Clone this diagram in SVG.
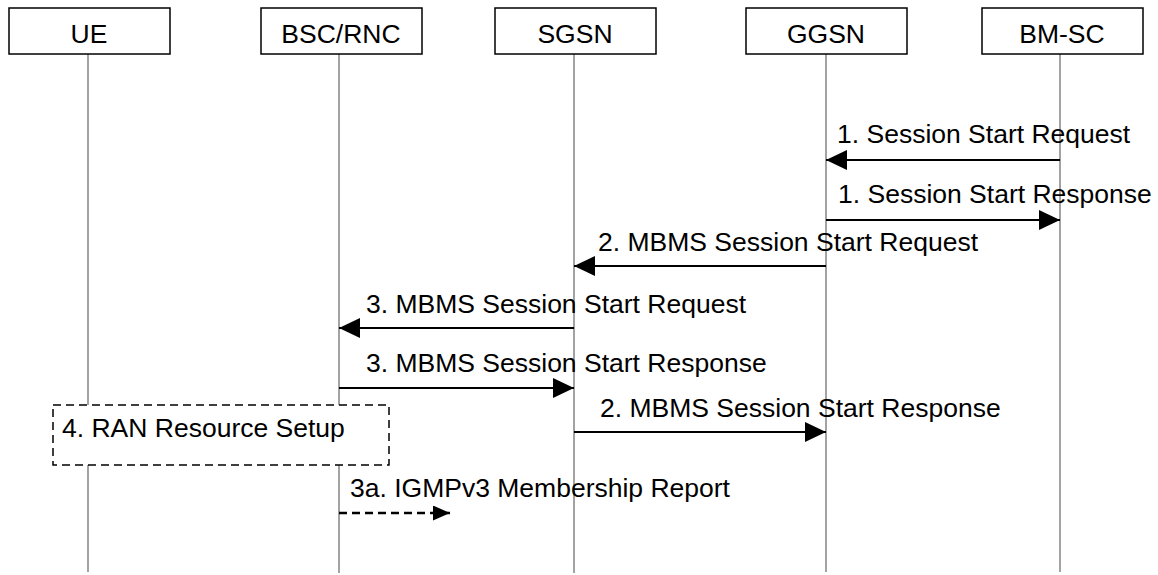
<svg xmlns="http://www.w3.org/2000/svg" width="1158" height="575" viewBox="0 0 1158 575">
<style>
text{font-family:"Liberation Sans",Arial,sans-serif;font-size:26.5px;fill:#000}
.box{fill:#fff;stroke:#000;stroke-width:1.5}
.life{stroke:#666;stroke-width:1.2}
.msg{stroke:#000;stroke-width:1.8;fill:none}
.dmsg{stroke:#000;stroke-width:2.6;fill:none;stroke-dasharray:8,5}
.hd{text-anchor:middle}
</style>
<defs>
<marker id="ah" markerWidth="21" markerHeight="20" refX="21" refY="10" orient="auto" markerUnits="userSpaceOnUse">
<path d="M0,0 L21,10 L0,20 Z" fill="#000"/>
</marker>
<marker id="ahs" markerWidth="17" markerHeight="15" refX="17" refY="7.5" orient="auto" markerUnits="userSpaceOnUse">
<path d="M0,0 L17,7.5 L0,15 Z" fill="#000"/>
</marker>
</defs>
<g id="lifelines">
<line class="life" x1="88" y1="54" x2="88" y2="572"/>
<line class="life" x1="339" y1="54" x2="339" y2="573"/>
<line class="life" x1="574" y1="54" x2="574" y2="573"/>
<line class="life" x1="826" y1="54" x2="826" y2="572"/>
<line class="life" x1="1060" y1="54" x2="1060" y2="572"/>
</g>
<g id="UE"><rect class="box" x="9" y="8" width="161" height="46"/><text class="hd" x="89" y="43">UE</text></g>
<g id="BSC-RNC"><rect class="box" x="261" y="8" width="161" height="46"/><text class="hd" x="341" y="43">BSC/RNC</text></g>
<g id="SGSN"><rect class="box" x="495" y="8" width="161" height="46"/><text class="hd" x="575" y="43">SGSN</text></g>
<g id="GGSN"><rect class="box" x="746" y="8" width="161" height="46"/><text class="hd" x="826" y="43">GGSN</text></g>
<g id="BM-SC"><rect class="box" x="982" y="8" width="161" height="46"/><text class="hd" x="1062" y="43">BM-SC</text></g>
<g id="RAN-setup">
<rect x="53" y="405" width="336" height="60" fill="#fff" stroke="#000" stroke-width="1.5" stroke-dasharray="8,5"/>
<text x="62" y="437">4. RAN Resource Setup</text>
</g>
<g id="connectors">
<line class="msg" x1="1060" y1="160" x2="826" y2="160" marker-end="url(#ah)"/>
<text x="837" y="143">1. Session Start Request</text>
<line class="msg" x1="826" y1="220" x2="1060" y2="220" marker-end="url(#ah)"/>
<text x="838" y="203">1. Session Start Response</text>
<line class="msg" x1="826" y1="266" x2="574" y2="266" marker-end="url(#ah)"/>
<text x="598" y="251">2. MBMS Session Start Request</text>
<line class="msg" x1="574" y1="328" x2="339" y2="328" marker-end="url(#ah)"/>
<text x="366" y="313">3. MBMS Session Start Request</text>
<line class="msg" x1="339" y1="388" x2="574" y2="388" marker-end="url(#ah)"/>
<text x="366" y="372">3. MBMS Session Start Response</text>
<line class="msg" x1="574" y1="432" x2="826" y2="432" marker-end="url(#ah)"/>
<text x="600" y="417">2. MBMS Session Start Response</text>
<line class="dmsg" x1="339" y1="513" x2="450" y2="513" marker-end="url(#ahs)"/>
<text x="350" y="497">3a. IGMPv3 Membership Report</text>
</g>
</svg>
